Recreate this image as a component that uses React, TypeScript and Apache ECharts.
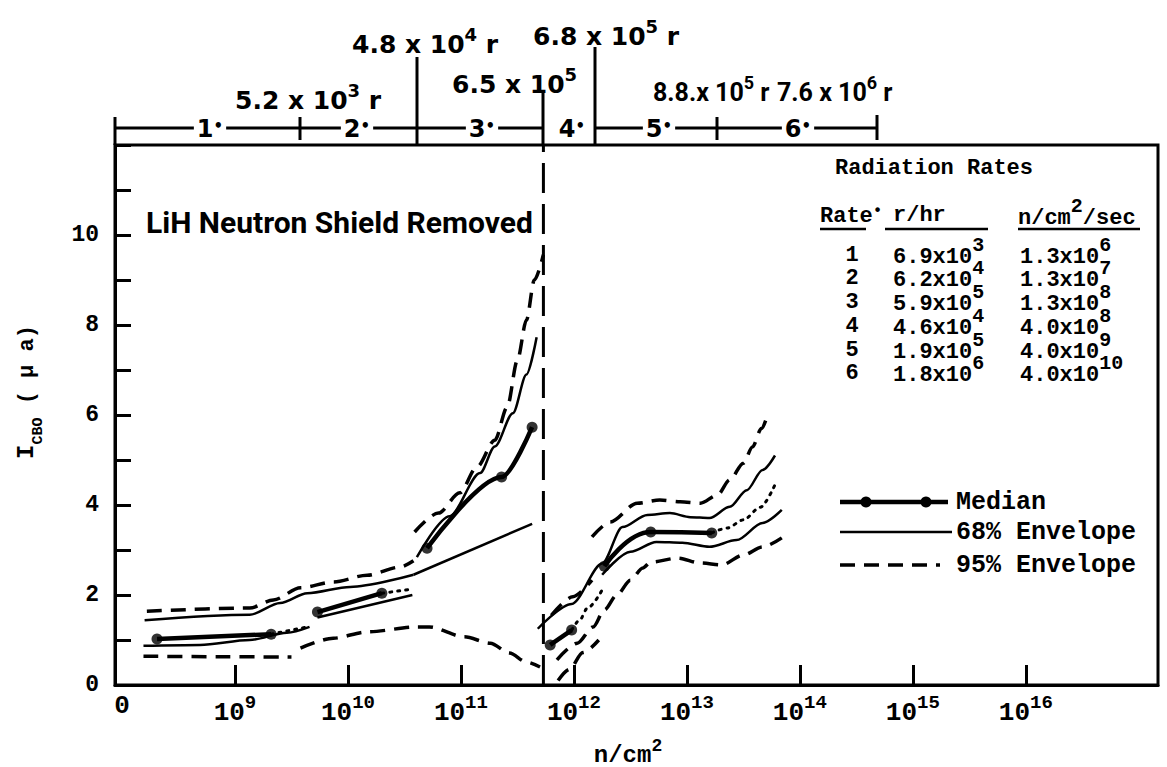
import React, { useEffect, useRef } from "react";
import * as echarts from "echarts";

// ---------------- DATA ----------------
// x = log10 of fluence (n/cm^2), y = I_CBO (micro-amp)
const xLabelValues = [8, 9, 10, 11, 12, 13, 14, 15, 16];
const xTickValues = [9, 10, 11, 12, 13, 14, 15, 16];
const yTickLabels = [0, 2, 4, 6, 8, 10];
const dividerX = 11.73;

// Rates 1-2
const median1 = [[8.31, 1.02], [9.32, 1.13]];
const dotted1 = [[9.32, 1.13], [9.66, 1.3]];
const lower68_1 = [[8.19, 0.87], [8.69, 0.89], [9.13, 1.0], [9.46, 1.16], [9.66, 1.29]];
const lower95_1 = [[8.19, 0.64], [8.84, 0.63], [9.5, 0.62]];
const median2 = [[9.73, 1.62], [10.3, 2.04]];
const dotted2 = [[10.3, 2.04], [10.57, 2.13]];
const lower68_2 = [[9.73, 1.5], [10.57, 2.0]];
const upper68_12 = [[8.2, 1.44], [9.13, 1.56], [9.4, 1.82], [9.64, 2.04], [10.02, 2.18], [10.58, 2.45]];
const upper95_12 = [[8.22, 1.64], [9.13, 1.71], [9.34, 1.89], [9.58, 2.16], [9.87, 2.29], [10.17, 2.44], [10.46, 2.62], [10.58, 2.76]];
const lower95_23 = [[9.58, 0.82], [9.87, 1.04], [10.17, 1.18], [10.61, 1.29], [10.72, 1.29], [11.03, 1.07], [11.26, 0.93], [11.43, 0.71], [11.58, 0.51], [11.7, 0.4]];
// Rate 3
const median3 = [[10.7, 3.04], [11.36, 4.62], [11.63, 5.73]];
const upper68_3 = [[10.61, 2.84], [10.9, 3.75], [11.17, 4.71], [11.3, 5.3], [11.46, 6.04], [11.58, 6.9], [11.67, 7.73]];
const lower68_3 = [[10.58, 2.45], [11.63, 3.58]];
const upper95_3 = [[10.59, 3.4], [10.8, 3.82], [10.99, 4.27], [11.14, 4.84], [11.3, 5.44], [11.41, 6.18], [11.5, 7.22], [11.58, 8.11], [11.65, 9.0], [11.73, 9.56]];
// Rates 4-6
const median4 = [[11.79, 0.89], [11.98, 1.22]];
const dotted4 = [[11.98, 1.22], [12.05, 1.44], [12.12, 1.71], [12.25, 2.11]];
const upper68_R = [[11.68, 1.25], [11.98, 1.8], [12.25, 2.7], [12.43, 3.51], [12.65, 3.78], [12.85, 3.82], [13.03, 3.73], [13.2, 3.71], [13.38, 3.96], [13.53, 4.33], [13.67, 4.78], [13.78, 5.1]];
const upper95_R4 = [[11.8, 1.55], [11.99, 1.96], [12.16, 2.33]];
const lower95_R4 = [[11.86, 0.1], [11.96, 0.35], [12.08, 0.72], [12.22, 1.0]];
const median56 = [[12.27, 2.64], [12.68, 3.4], [13.22, 3.38]];
const dotted56 = [[13.22, 3.38], [13.36, 3.49], [13.5, 3.67], [13.65, 3.95], [13.78, 4.45]];
const lower68_R = [[12.25, 2.45], [12.5, 2.96], [12.73, 3.18], [12.96, 3.16], [13.2, 3.07], [13.44, 3.22], [13.67, 3.6], [13.84, 3.89]];
const upper95_R = [[12.16, 3.29], [12.32, 3.62], [12.56, 4.04], [12.76, 4.11], [12.94, 4.07], [13.12, 4.04], [13.27, 4.22], [13.38, 4.56], [13.5, 4.93], [13.58, 5.29], [13.66, 5.7], [13.72, 6.05]];
const lower95_R = [[11.85, 0.56], [12.03, 0.93], [12.17, 1.29], [12.27, 1.67], [12.38, 2.0], [12.5, 2.33], [12.61, 2.6], [12.68, 2.73], [12.92, 2.82], [13.12, 2.71], [13.31, 2.67], [13.5, 2.89], [13.67, 3.07], [13.84, 3.27]];

// Table: radiation rates
const rateIds = ["1", "2", "3", "4", "5", "6"];
const doseRateMant = ["6.9", "6.2", "5.9", "4.6", "1.9", "1.8"];
const doseRateExp = ["3", "4", "5", "4", "5", "6"];
const fluxRateMant = ["1.3", "1.3", "1.3", "4.0", "4.0", "4.0"];
const fluxRateExp = ["6", "7", "8", "8", "9", "10"];

// Top dose scale
const rateBandLabels = ["1", "2", "3", "4", "5", "6"];
const doseText = ["5.2 x 10", "4.8 x 10", "6.5 x 10", "6.8 x 10", "8.8.x 10", "7.6 x 10"];
const doseExp = ["3", "4", "5", "5", "5", "6"];
const doseUnit = [" r", " r", "", " r", " r", " r"];

const legendLabels = ["Median", "68% Envelope", "95% Envelope"];

// ---------------- STYLE ----------------
const MONO = '"Liberation Mono", "DejaVu Sans Mono", monospace';
const SANS = '"DejaVu Sans", sans-serif';
const ROBO = 'Roboto, "DejaVu Sans", sans-serif';

const MED = { width: 4.5 };
const E68 = { width: 2.5 };
const E95 = { width: 3.5, type: [15, 9] };
const DOT = { width: 3, type: [2, 6], cap: "round" };

function lineS(data: number[][], style: any, smooth: number | boolean = 0.3) {
  return {
    type: "line",
    data,
    symbol: "none",
    smooth,
    smoothMonotone: "x",
    silent: true,
    z: 3,
    lineStyle: { color: "#000", ...style },
  };
}

function txt(x: number, y: number, text: string, o: any = {}) {
  return {
    type: "text",
    x,
    y,
    rotation: o.rotation || 0,
    silent: true,
    z: 10,
    style: {
      text,
      fill: "#000",
      fontSize: o.size || 22,
      fontFamily: o.family || MONO,
      fontWeight: "bold",
      align: o.align || "left",
      textAlign: o.align || "left",
      verticalAlign: "middle",
      textVerticalAlign: "middle",
      rich: o.rich,
      backgroundColor: o.bg,
      padding: o.padding,
    },
  };
}

function ln(x1: number, y1: number, x2: number, y2: number, w = 3, dash?: number[]) {
  return {
    type: "line",
    silent: true,
    z: 9,
    shape: { x1, y1, x2, y2 },
    style: { stroke: "#000", lineWidth: w, lineDash: dash },
  };
}

const supRich = (family: string, size: number, supSize: number, lift: number) => ({
  a: { fontFamily: family, fontWeight: "bold", fontSize: size, verticalAlign: "bottom", fill: "#000" },
  s: { fontFamily: family, fontWeight: "bold", fontSize: supSize, verticalAlign: "bottom", padding: [0, 0, lift, 0], fill: "#000" },
});

function buildGraphic() {
  const g: any[] = [];
  // top dose scale bar
  g.push(ln(115, 128, 543, 128));
  g.push(ln(595, 128, 877, 128));
  g.push(ln(115, 117, 115, 145));
  g.push(ln(300, 117, 300, 140));
  g.push(ln(417, 57, 417, 145));
  g.push(ln(543, 93, 543, 145));
  g.push(ln(595, 47, 595, 145));
  g.push(ln(717, 117, 717, 140));
  g.push(ln(877, 115, 877, 140));
  const bandX = [210, 357, 482, 572, 659, 798];
  const bandRich = supRich(SANS, 24, 15, 8);
  rateBandLabels.forEach((r, i) => {
    g.push(txt(bandX[i], 129, `{a|${r}}{s|•}`, { align: "center", rich: bandRich, bg: "#fff", padding: [0, 3, 0, 3] }));
  });
  const dosePos = [[235, 97], [352, 41], [452, 81], [533, 33], [653, 89], [777, 89]];
  const annRich = supRich(SANS, 25, 18, 13);
  const annRichNarrow = supRich(ROBO, 25, 18, 13);
  doseText.forEach((t, i) => {
    const unit = doseUnit[i] ? `{a|${doseUnit[i]}}` : "";
    g.push(txt(dosePos[i][0], dosePos[i][1], `{a|${t}}{s|${doseExp[i]}}${unit}`, { rich: i >= 4 ? annRichNarrow : annRich }));
  });

  // in-plot title
  g.push(txt(146, 222, "LiH Neutron Shield Removed", { family: ROBO, size: 30 }));

  // table
  const tRich = supRich(MONO, 22, 20, 13);
  g.push(txt(835, 168, "Radiation", { size: 22 }));
  g.push(txt(967, 168, "Rates", { size: 22 }));
  g.push(txt(820, 215, "{a|Rate}{s|•}", { rich: supRich(MONO, 22, 16, 8) }));
  g.push(txt(893, 215, "r/hr", { size: 22 }));
  g.push(txt(1018, 213, "{a|n/cm}{s|2}{a|/sec}", { rich: tRich }));
  g.push(ln(820, 229, 866, 229, 2.5));
  g.push(ln(885, 229, 988, 229, 2.5));
  g.push(ln(1018, 229, 1140, 229, 2.5));
  const rowY = [255, 278, 302, 326, 350, 373];
  rateIds.forEach((r, i) => {
    g.push(txt(852, rowY[i], r, { size: 22, align: "center" }));
    g.push(txt(893, rowY[i] - 3, `{a|${doseRateMant[i]}x10}{s|${doseRateExp[i]}}`, { rich: tRich }));
    g.push(txt(1020, rowY[i] - 3, `{a|${fluxRateMant[i]}x10}{s|${fluxRateExp[i]}}`, { rich: tRich }));
  });

  // legend
  g.push(ln(840, 502, 948, 502, 4.5));
  g.push({ type: "circle", silent: true, z: 9, shape: { cx: 866, cy: 502, r: 5.5 }, style: { fill: "#000" } });
  g.push({ type: "circle", silent: true, z: 9, shape: { cx: 926, cy: 502, r: 5.5 }, style: { fill: "#000" } });
  g.push(ln(840, 532, 952, 532, 2.5));
  g.push(ln(840, 565, 940, 565, 3.5, [15, 9]));
  const legY = [502, 532, 565];
  legendLabels.forEach((l, i) => g.push(txt(956, legY[i], l, { size: 25 })));

  // axis titles
  g.push(txt(628, 752, "{a|n/cm}{s|2}", { align: "center", rich: supRich(MONO, 24, 18, 12) }));
  g.push(
    txt(30, 392, "{i|I}{sub|CBO}{p| ( μ a)}", {
      align: "center",
      rotation: Math.PI / 2,
      rich: {
        i: { fontFamily: MONO, fontWeight: "bold", fontSize: 24, verticalAlign: "bottom", padding: [0, 0, 7, 0], fill: "#000" },
        sub: { fontFamily: MONO, fontWeight: "bold", fontSize: 15, verticalAlign: "bottom", fill: "#000" },
        p: { fontFamily: MONO, fontWeight: "bold", fontSize: 22, verticalAlign: "bottom", padding: [0, 0, 7, 0], fill: "#000" },
      },
    })
  );
  return g;
}

export default function App() {
  const ref = useRef<HTMLDivElement>(null);
  useEffect(() => {
    if (!ref.current) return;
    const chart = echarts.init(ref.current, null, { renderer: "svg" });
    const medianPoints = [...median1, ...median2, ...median3, ...median4, ...median56];
    const series: any[] = [
      lineS(median1, MED, false),
      lineS(dotted1, DOT, false),
      lineS(lower68_1, E68),
      lineS(lower95_1, E95),
      lineS(median2, MED, false),
      lineS(dotted2, DOT, false),
      lineS(lower68_2, E68, false),
      lineS(upper68_12, E68),
      lineS(upper95_12, E95),
      lineS(lower95_23, E95),
      lineS(median3, MED, 0.3),
      lineS(upper68_3, E68),
      lineS(lower68_3, E68, false),
      lineS(upper95_3, E95),
      lineS(median4, MED, false),
      lineS(dotted4, DOT),
      lineS(upper68_R, E68),
      lineS(upper95_R4, E95),
      lineS(lower95_R4, E95),
      lineS(median56, MED, 0.5),
      lineS(dotted56, DOT),
      lineS(lower68_R, E68),
      lineS(upper95_R, E95),
      lineS(lower95_R, E95),
      lineS([[dividerX, 0], [dividerX, 12]], { width: 3, type: [30, 11] }, false),
      {
        type: "scatter",
        data: medianPoints,
        symbol: "circle",
        symbolSize: 11,
        silent: true,
        z: 5,
        itemStyle: { color: "#000" },
      },
    ];
    chart.setOption({
      animation: false,
      backgroundColor: "#fff",
      grid: { left: 115, right: 9, top: 145, bottom: 82, show: true, borderColor: "#000", borderWidth: 3 },
      xAxis: {
        type: "value",
        min: 7.938,
        max: 17.17,
        axisLine: { onZero: false, lineStyle: { color: "#000", width: 3 } },
        axisTick: { inside: true, length: 20, customValues: xTickValues, lineStyle: { color: "#000", width: 3 } },
        axisLabel: {
          customValues: xLabelValues,
          margin: 8,
          formatter: (v: number) => {
            const k = Math.round(v);
            return k === 8 ? "{b|0}" : `{b|10}{s|${k}}`;
          },
          rich: {
            b: { fontFamily: MONO, fontWeight: "bold", fontSize: 26, color: "#000", verticalAlign: "bottom" },
            s: { fontFamily: MONO, fontWeight: "bold", fontSize: 19, color: "#000", verticalAlign: "bottom", padding: [0, 0, 14, 0] },
          },
        },
        splitLine: { show: false },
      },
      yAxis: {
        type: "value",
        min: 0,
        max: 12,
        interval: 1,
        axisLine: { show: true, lineStyle: { color: "#000", width: 3 } },
        axisTick: { show: true, inside: true, length: 16, lineStyle: { color: "#000", width: 3 } },
        axisLabel: {
          margin: 16,
          color: "#000",
          fontSize: 23,
          fontFamily: MONO,
          fontWeight: "bold",
          formatter: (v: number) => (yTickLabels.indexOf(v) >= 0 ? String(v) : ""),
        },
        splitLine: { show: false },
      },
      series,
      graphic: buildGraphic(),
    });
    return () => chart.dispose();
  }, []);
  return (
    <div
      ref={ref}
      style={{ position: "fixed", left: 0, top: 0, width: 1167, height: 767, background: "#fff" }}
    />
  );
}
